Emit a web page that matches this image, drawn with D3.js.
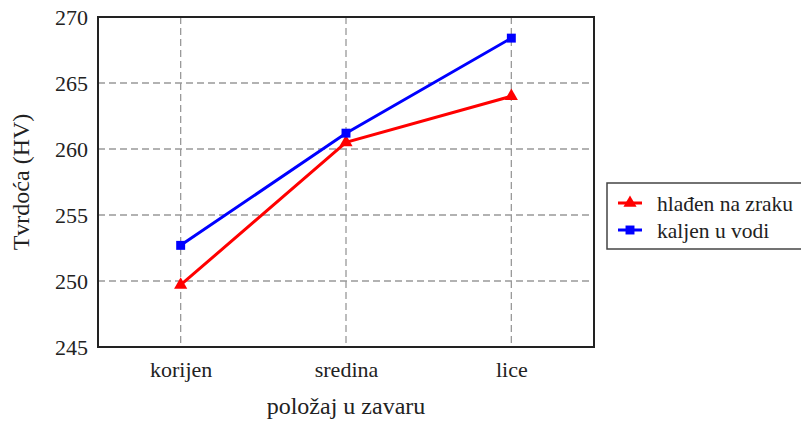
<!DOCTYPE html>
<html>
<head>
<meta charset="utf-8">
<script src="https://cdn.jsdelivr.net/npm/d3@7"></script>
<style>
  body { margin: 0; background: #fff; }
  svg { display: block; font-family: "Liberation Serif", "Times New Roman", serif; }
</style>
</head>
<body>
<div id="chart"></div>
<script>
// data
var positions = ["korijen", "sredina", "lice"]
var zrak = [249.7, 260.5, 264.0]
var voda = [252.7, 261.2, 268.4]
var yTicks = [245, 250, 255, 260, 265, 270]
var seriesNames = ["hlađen na zraku", "kaljen u vodi"]

var width = 801, height = 421
var plotL = 98, plotR = 594, plotT = 17, plotB = 347

var svg = d3.select("#chart").append("svg")
  .attr("width", width)
  .attr("height", height)

var x = d3.scalePoint()
  .domain(positions)
  .range([plotL, plotR])
  .padding(0.5)

var y = d3.scaleLinear()
  .domain([245, 270])
  .range([plotB, plotT])

// grid
var grid = svg.append("g")
grid.selectAll(".hg")
  .data(yTicks.slice(1, -1))
  .enter().append("line")
  .attr("x1", plotL).attr("x2", plotR)
  .attr("y1", function(d) { return y(d) })
  .attr("y2", function(d) { return y(d) })
  .attr("stroke", "#999").attr("stroke-width", 1.3)
  .attr("stroke-dasharray", "7,4")

grid.selectAll(".vg")
  .data(positions)
  .enter().append("line")
  .attr("x1", function(d) { return x(d) })
  .attr("x2", function(d) { return x(d) })
  .attr("y1", plotT).attr("y2", plotB)
  .attr("stroke", "#999").attr("stroke-width", 1.3)
  .attr("stroke-dasharray", "7,4")

// axes
var yAxis = d3.axisLeft(y).tickValues(yTicks).tickSize(0).tickPadding(10)
var ya = svg.append("g").attr("transform", `translate(${plotL},0)`).call(yAxis)
ya.select(".domain").remove()
ya.selectAll("text").attr("font-size", 22).attr("font-family", "Liberation Serif").attr("fill", "#222")

var xAxis = d3.axisBottom(x).tickSize(0).tickPadding(14)
var xa = svg.append("g").attr("transform", `translate(0,${plotB})`).call(xAxis)
xa.select(".domain").remove()
xa.selectAll("text").attr("font-size", 22).attr("font-family", "Liberation Serif").attr("fill", "#222")

// frame
svg.append("rect")
  .attr("x", plotL).attr("y", plotT)
  .attr("width", plotR - plotL).attr("height", plotB - plotT)
  .attr("fill", "none").attr("stroke", "#222").attr("stroke-width", 2)

// titles
svg.append("text")
  .attr("transform", `translate(29,${(plotT + plotB) / 2}) rotate(-90)`)
  .attr("text-anchor", "middle")
  .attr("font-size", 24).attr("fill", "#222")
  .text("Tvrdoća (HV)")

svg.append("text")
  .attr("x", (plotL + plotR) / 2).attr("y", 414)
  .attr("text-anchor", "middle")
  .attr("font-size", 24).attr("fill", "#222")
  .text("položaj u zavaru")

// lines
var line = d3.line()
  .x(function(d, i) { return x(positions[i]) })
  .y(function(d) { return y(d) })

var series = [
  { name: seriesNames[0], values: zrak, color: "#ff0000", symbol: d3.symbolTriangle, size: 75 },
  { name: seriesNames[1], values: voda, color: "#0000ff", symbol: d3.symbolSquare, size: 80 }
]

series.forEach(function(s) {
  svg.append("path")
    .datum(s.values)
    .attr("d", line)
    .attr("fill", "none")
    .attr("stroke", s.color)
    .attr("stroke-width", 3)

  svg.selectAll(null)
    .data(s.values)
    .enter().append("path")
    .attr("d", d3.symbol().type(s.symbol).size(s.size))
    .attr("transform", function(d, i) { return `translate(${x(positions[i])},${y(d)})` })
    .attr("fill", s.color)
})

// legend
var lg = svg.append("g").attr("transform", "translate(607,183)")
lg.append("rect")
  .attr("width", 200).attr("height", 66)
  .attr("fill", "#fff").attr("stroke", "#444").attr("stroke-width", 1.5)

series.forEach(function(s, i) {
  var row = lg.append("g").attr("transform", `translate(0,${20 + i * 27})`)
  row.append("line")
    .attr("x1", 11).attr("x2", 35)
    .attr("stroke", s.color).attr("stroke-width", 3)
  row.append("path")
    .attr("d", d3.symbol().type(s.symbol).size(s.size))
    .attr("transform", "translate(23,0)")
    .attr("fill", s.color)
  row.append("text")
    .attr("x", 50).attr("dy", "0.35em")
    .attr("font-size", 21.5).attr("fill", "#222")
    .text(s.name)
})
</script>
</body>
</html>
